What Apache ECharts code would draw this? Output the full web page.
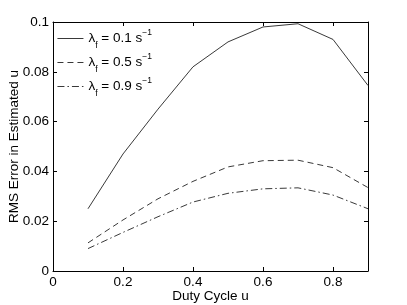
<!DOCTYPE html>
<html><head><meta charset="utf-8">
<script src="https://cdn.jsdelivr.net/npm/echarts@6/dist/echarts.min.js"></script>
<style>html,body{margin:0;padding:0;background:#fff}#c{width:407px;height:305px}</style>
</head><body><div id="c"></div>
<script>
const dutyCycle = [0.1, 0.2, 0.3, 0.4, 0.5, 0.6, 0.7, 0.8, 0.9];
const rms01 = [0.025, 0.047, 0.065, 0.082, 0.092, 0.098, 0.0993, 0.093, 0.0745];
const rms05 = [0.0113, 0.0205, 0.0290, 0.0360, 0.0418, 0.0443, 0.0445, 0.0415, 0.0335];
const rms09 = [0.0090, 0.0155, 0.0218, 0.0277, 0.0312, 0.0330, 0.0334, 0.0305, 0.0250];
const legendRates = ['0.1', '0.5', '0.9'];
const xTicks = [0, 0.2, 0.4, 0.6, 0.8];
const yTicks = [0, 0.02, 0.04, 0.06, 0.08, 0.1];

const font = 'Liberation Sans, Arial, Helvetica, sans-serif';
const ink = '#000';
const lineColor = '#222';
function pairs(ys){ return dutyCycle.map((x,i)=>[x, ys[i]]); }
const names = legendRates.map(r => 'lam_' + r);
const dashes = ['solid', [6,4], [7,3,1.5,3]];
const dataSets = [rms01, rms05, rms09];

const chart = echarts.init(document.getElementById('c'), null, {renderer:'canvas'});
const axisCommon = {
  type:'value', axisLine:{show:true, onZero:false, lineStyle:{color:ink, width:1}},
  axisTick:{show:true, inside:true, length:4, lineStyle:{color:ink, width:1}},
  splitLine:{show:false}
};
chart.setOption({
  animation:false,
  grid:{left:53, right:39, top:22, bottom:34, containLabel:false, outerBoundsMode:'none'},
  legend:{
    show:true, orient:'vertical', left:57, top:28, padding:0, itemWidth:26, itemHeight:12, itemGap:2,
    data:names,
    itemStyle:{opacity:0, borderWidth:0},
    lineStyle:{width:0.9},
    formatter: function(n){ const r = n.split('_')[1]; return '{l|λ}{s|f}{l| = ' + r + ' s}{p|−1}'; },
    textStyle:{
      color:ink, fontFamily:font, fontSize:13.5,
      rich:{
        l:{fontFamily:font, fontSize:13.5, color:ink, lineHeight:17, verticalAlign:'middle'},
        s:{fontFamily:font, fontSize:8.5, color:ink, lineHeight:8, verticalAlign:'bottom', padding:[0,0,-3,0]},
        p:{fontFamily:font, fontSize:8.5, color:ink, lineHeight:8, verticalAlign:'top', padding:[-2,0,0,0]}
      }
    }
  },
  xAxis:[
    Object.assign({}, axisCommon, {position:'bottom', min:0, max:0.9, interval:0.2,
      name:'Duty Cycle u', nameLocation:'middle', nameGap:18, nameMoveOverlap:false,
      nameTextStyle:{fontFamily:font, fontSize:13.5, color:ink},
      axisLabel:{show:true, fontFamily:font, fontSize:13.5, color:ink, margin:4, showMaxLabel:false,
        formatter: v => xTicks.some(t=>Math.abs(t-v)<1e-9) ? String(+v.toFixed(1)) : ''}}),
    Object.assign({}, axisCommon, {position:'top', min:0, max:0.9, interval:0.2, axisLabel:{show:false}})
  ],
  yAxis:[
    Object.assign({}, axisCommon, {position:'left', min:0, max:0.1, interval:0.02,
      name:'RMS Error in Estimated u', nameLocation:'middle', nameGap:32, nameMoveOverlap:false,
      nameTextStyle:{fontFamily:font, fontSize:13.5, color:ink},
      axisLabel:{show:true, fontFamily:font, fontSize:13.5, color:ink, margin:4,
        formatter: v => yTicks.some(t=>Math.abs(t-v)<1e-9) ? String(+v.toFixed(2)) : ''}}),
    Object.assign({}, axisCommon, {position:'right', min:0, max:0.1, interval:0.02, axisLabel:{show:false}})
  ],
  series: names.map((n,i)=>({
    name:n, type:'line', xAxisIndex:0, yAxisIndex:0, data:pairs(dataSets[i]),
    symbol:'none', showSymbol:false, smooth:false,
    lineStyle:{color:lineColor, width:0.9, type:dashes[i]},
    itemStyle:{color:lineColor}
  }))
});
</script></body></html>
